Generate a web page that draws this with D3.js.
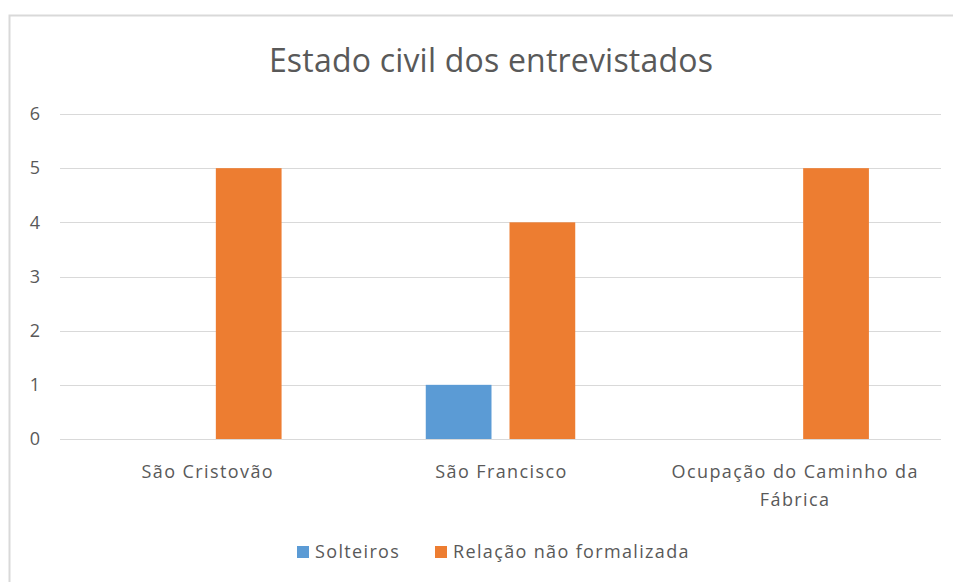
<!DOCTYPE html>
<html lang="pt">
  <head>
    <meta charset="UTF-8" />
    <title>Estado civil dos entrevistados</title>
    <script src="https://d3js.org/d3.v7.min.js"></script>
    <style>
      body {
        margin: 0;
        background: #fff;
        font-family: "Open Sans", sans-serif;
      }
      .tick text {
        fill: #595959;
      }
    </style>
  </head>
  <body>
    <svg id="chart" width="953" height="582"></svg>
    <script>
      // data
      const categories = [
        ["São Cristovão"],
        ["São Francisco"],
        ["Ocupação do Caminho da", "Fábrica"],
      ];
      const seriesNames = ["Solteiros", "Relação não formalizada"];
      const solteiros = [0, 1, 0];
      const relacao = [5, 4, 5];
      const seriesColors = ["#5b9bd5", "#ed7d31"];
      const yTicks = [0, 1, 2, 3, 4, 5, 6];

      const svg = d3.select("#chart");

      // chart border
      svg
        .append("rect")
        .attr("x", 9.5)
        .attr("y", 15.5)
        .attr("width", 1000)
        .attr("height", 1000)
        .attr("fill", "none")
        .attr("stroke", "#d9d9d9")
        .attr("stroke-width", 2);

      svg
        .append("text")
        .attr("x", 491)
        .attr("y", 72)
        .attr("text-anchor", "middle")
        .attr("font-size", 32)
        .attr("letter-spacing", 0.2)
        .attr("fill", "#595959")
        .text("Estado civil dos entrevistados");

      const plotLeft = 60,
        plotRight = 941,
        plotTop = 114,
        plotBottom = 439;

      const catKeys = categories.map((c) => c.join(" "));
      const x0 = d3.scaleBand().domain(catKeys).range([plotLeft, plotRight]);
      const bw = x0.bandwidth();
      const groupW = bw * 0.509;
      const x1 = d3
        .scaleBand()
        .domain(seriesNames)
        .range([(bw - groupW) / 2, (bw + groupW) / 2])
        .paddingInner(0.215);

      const y = d3.scaleLinear().domain([0, 6]).range([plotBottom, plotTop]);

      // gridlines
      svg
        .append("g")
        .selectAll("line")
        .data(yTicks)
        .join("line")
        .attr("x1", plotLeft)
        .attr("x2", plotRight)
        .attr("y1", (d) => Math.round(y(d)) + 0.5)
        .attr("y2", (d) => Math.round(y(d)) + 0.5)
        .attr("stroke", "#d9d9d9")
        .attr("stroke-width", 1);

      // y axis labels
      const yAxis = svg
        .append("g")
        .attr("transform", `translate(${plotLeft - 20},0)`)
        .call(
          d3.axisLeft(y).tickValues(yTicks).tickFormat(d3.format("d")).tickSize(0).tickPadding(0)
        );
      yAxis.select(".domain").remove();
      yAxis.selectAll("text").attr("font-size", 18).attr("font-family", "Open Sans");

      const values = [solteiros, relacao];
      const rows = [];
      catKeys.forEach((c, i) => {
        seriesNames.forEach((s, j) => {
          rows.push({ cat: c, series: s, value: values[j][i], color: seriesColors[j] });
        });
      });

      svg
        .append("g")
        .selectAll("rect")
        .data(rows.filter((d) => d.value > 0))
        .join("rect")
        .attr("x", (d) => x0(d.cat) + x1(d.series))
        .attr("width", x1.bandwidth())
        .attr("y", (d) => y(d.value))
        .attr("height", (d) => y(0) - y(d.value))
        .attr("fill", (d) => d.color);

      // category labels
      const catG = svg
        .append("g")
        .selectAll("text")
        .data(categories)
        .join("text")
        .attr("x", (d, i) => x0(catKeys[i]) + bw / 2 + 1)
        .attr("y", 478)
        .attr("text-anchor", "middle")
        .attr("font-size", 18)
        .attr("letter-spacing", 1.4)
        .attr("fill", "#595959");
      catG
        .selectAll("tspan")
        .data((d) => d)
        .join("tspan")
        .attr("x", function () {
          return d3.select(this.parentNode).attr("x");
        })
        .attr("dy", (d, i) => (i === 0 ? 0 : 28))
        .text((d) => d);

      // legend
      const legendX = [297, 435];
      const legend = svg
        .append("g")
        .selectAll("g")
        .data(seriesNames)
        .join("g")
        .attr("transform", (d, i) => `translate(${legendX[i]},546)`);
      legend
        .append("rect")
        .attr("width", 12)
        .attr("height", 12)
        .attr("fill", (d, i) => seriesColors[i]);
      legend
        .append("text")
        .attr("x", 18)
        .attr("y", 12)
        .attr("font-size", 18)
        .attr("letter-spacing", 1.35)
        .attr("fill", "#595959")
        .text((d) => d);
    </script>
  </body>
</html>
